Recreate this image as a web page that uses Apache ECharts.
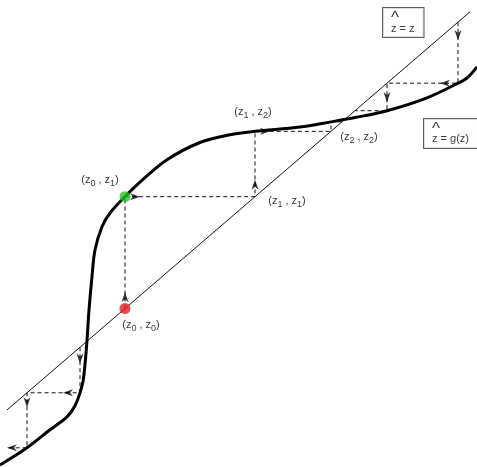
<!DOCTYPE html>
<html>
<head>
<meta charset="utf-8">
<script src="https://cdn.jsdelivr.net/npm/echarts@6/dist/echarts.min.js"></script>
<style>
  html, body { margin: 0; padding: 0; background: #fff; }
  #main { width: 477px; height: 467px; }
</style>
</head>
<body>
<div id="main"></div>
<script>
// curve z_hat = g(z), sampled points
var curveZ = [0, 27, 50, 67, 75, 80, 83, 85, 87, 89, 92, 95, 102, 110, 125, 143, 167, 200, 230, 255, 300, 331, 355, 387, 427, 458, 467, 477];
var curveG = [-57, -37, -16, -1, 12, 27, 40, 60, 88, 123, 162, 193, 220, 236, 255, 275, 298, 318, 327, 331, 336, 342, 347, 355, 370, 387, 393, 406];

// identity line z_hat = z
var diagZ = [7, 470];

// cobweb paths (vertices)
var webLowZ = [80, 80, 27, 27, 6];
var webLowG = [80, 27, 27, -37, -37];
var webMidZ = [125, 125, 255, 255, 331, 331, 342];
var webMidG = [125, 255, 255, 331, 331, 342, 342];
var webTopZ = [458, 458, 387, 387, 355];
var webTopG = [458, 387, 387, 355, 355];

// arrow heads: position and direction
var arrowZ = [458, 445, 387, 265, 255, 135, 125, 80, 68, 27, 12];
var arrowG = [443, 387, 371, 331, 269, 255, 138, 67, 27, 16, -37];
var arrowDir = ['down', 'left', 'down', 'right', 'up', 'right', 'up', 'down', 'left', 'down', 'left'];

// marked points
var startPt = [125, 125];   // (z0, z0)
var firstPt = [125, 255];   // (z0, z1)

// point labels
var labelText = ['(z0 , z0)', '(z0 , z1)', '(z1 , z1)', '(z1 , z2)', '(z2 , z2)'];
var labelZ = [141, 100, 287, 253, 359];
var labelG = [104.7, 273.3, 248.9, 352.3, 323.3];

// boxed equations
var boxRhs = ['z', 'g(z)'];
var boxZ = [383, 424];
var boxG = [474.4, 345.4];

var font = 'Liberation Sans';
var rotOf = { up: 0, down: 180, left: 90, right: -90 };

function pairs(xs, ys) {
    return xs.map(function (x, i) { return [x, ys[i]]; });
}

function subLabel(t) {
    // "(z0 , z1)" -> rich text with subscripts
    var m = t.match(/\(z(\d) , z(\d)\)/);
    return '{m|(z}{s|' + m[1] + '}{m| , z}{s|' + m[2] + '}{m|)}';
}

var dashStyle = { color: '#111', width: 1, type: [4, 3] };

var chart = echarts.init(document.getElementById('main'));

var option = {
    animation: false,
    backgroundColor: '#fff',
    grid: { left: 0, right: 0, top: 0, bottom: 0 },
    xAxis: { type: 'value', min: 0, max: 477, show: false },
    yAxis: { type: 'value', min: -59.3, max: 483.7, show: false },
    series: [
        {
            type: 'line',
            data: pairs(diagZ, diagZ),
            symbol: 'none',
            lineStyle: { color: '#111', width: 1 },
            z: 1
        },
        {
            type: 'line',
            data: pairs(webLowZ, webLowG),
            symbol: 'none',
            lineStyle: dashStyle,
            z: 1
        },
        {
            type: 'line',
            data: pairs(webMidZ, webMidG),
            symbol: 'none',
            lineStyle: dashStyle,
            z: 1
        },
        {
            type: 'line',
            data: pairs(webTopZ, webTopG),
            symbol: 'none',
            lineStyle: dashStyle,
            z: 1
        },
        {
            type: 'line',
            data: pairs(curveZ, curveG),
            symbol: 'none',
            smooth: 0.35,
            lineStyle: { color: '#000', width: 3 },
            z: 2
        },
        {
            type: 'scatter',
            data: arrowZ.map(function (z, i) {
                return { value: [z, arrowG[i]], symbolRotate: rotOf[arrowDir[i]] };
            }),
            symbol: 'path://M0,0 L4,10 L0,7 L-4,10 Z',
            symbolSize: [7, 10],
            itemStyle: { color: '#000' },
            z: 3
        },
        {
            type: 'scatter',
            data: [firstPt],
            symbolSize: 11,
            itemStyle: { color: '#22c622' },
            z: 4
        },
        {
            type: 'scatter',
            data: [startPt],
            symbolSize: 11,
            itemStyle: { color: '#e41e1e' },
            z: 4
        },
        {
            type: 'scatter',
            data: labelZ.map(function (z, i) {
                return { value: [z, labelG[i]], name: labelText[i] };
            }),
            symbolSize: 0,
            label: {
                show: true,
                position: 'inside',
                formatter: function (p) { return subLabel(p.name); },
                rich: {
                    m: { fontFamily: font, fontSize: 11, lineHeight: 13, verticalAlign: 'top', color: '#000' },
                    s: { fontFamily: font, fontSize: 9, lineHeight: 9, padding: [5, 0, 0, 0], verticalAlign: 'top', color: '#000' }
                }
            },
            z: 5
        },
        {
            type: 'scatter',
            data: boxZ.map(function (z, i) {
                return { value: [z, boxG[i]], name: boxRhs[i] };
            }),
            symbolSize: 0,
            label: {
                show: true,
                position: [0, 0],
                align: 'left',
                verticalAlign: 'top',
                formatter: function (p) { return '{h|^}\n{t|z = ' + p.name + '}'; },
                backgroundColor: '#fff',
                borderColor: '#333',
                borderWidth: 1,
                padding: [6, 9, 3, 8],
                rich: {
                    h: { fontFamily: font, fontSize: 17, lineHeight: 9, color: '#000' },
                    t: { fontFamily: font, fontSize: 11, lineHeight: 11, color: '#000' }
                }
            },
            z: 5
        }
    ]
};

chart.setOption(option);
</script>
</body>
</html>
